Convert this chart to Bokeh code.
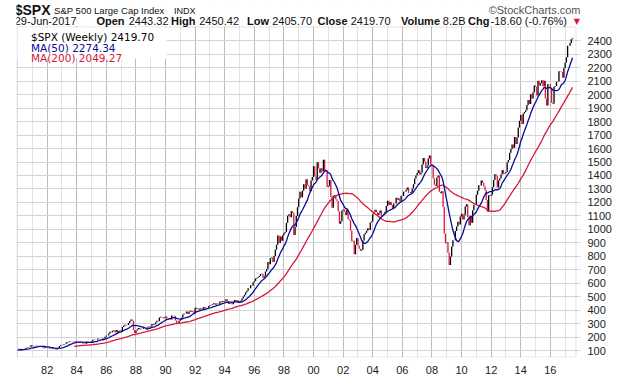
import pandas as pd
from bokeh.plotting import figure
from bokeh.models import (Range1d, FixedTicker, CustomJSTickFormatter,
                          Legend, LegendItem, BoxAnnotation, Label, ColumnDataSource)
from bokeh.embed import file_html
from bokeh.resources import INLINE

# ---------------- data (monthly closes) ----------------
c1979 = [99.9, 96.3, 101.6, 101.8, 99.1, 102.9, 103.8, 109.3, 109.3, 101.8, 106.2, 107.9]
c1980 = [114.2, 113.7, 102.1, 106.3, 111.2, 114.2, 121.7, 122.4, 125.5, 127.5, 140.5, 135.8]
c1981 = [129.6, 131.3, 136.0, 132.8, 132.6, 131.2, 130.9, 122.8, 116.2, 121.9, 126.4, 122.6]
c1982 = [120.4, 113.1, 112.0, 116.4, 111.9, 109.6, 107.1, 119.5, 120.4, 133.7, 138.5, 140.6]
c1983 = [145.3, 148.1, 153.0, 164.4, 162.4, 168.1, 162.6, 164.4, 166.1, 163.6, 166.4, 164.9]
c1984 = [163.4, 157.1, 159.2, 160.1, 150.6, 153.2, 150.7, 166.7, 166.1, 166.1, 163.6, 167.2]
c1985 = [179.6, 181.2, 180.7, 179.8, 189.6, 191.9, 190.9, 188.6, 182.1, 189.8, 202.2, 211.3]
c1986 = [211.8, 226.9, 238.9, 235.5, 247.4, 250.8, 236.1, 252.9, 231.3, 244.0, 249.2, 242.2]
c1987 = [274.1, 284.2, 291.7, 288.4, 290.1, 304.0, 318.7, 329.8, 321.8, 251.8, 230.3, 247.1]
c1988 = [257.1, 267.8, 258.9, 261.3, 262.2, 273.5, 272.0, 261.5, 271.9, 279.0, 273.7, 277.7]
c1989 = [297.5, 288.9, 294.9, 309.6, 320.5, 318.0, 346.1, 351.5, 349.2, 340.4, 346.0, 353.4]
c1990 = [329.1, 331.9, 339.9, 330.8, 361.2, 358.0, 356.2, 322.6, 306.1, 304.0, 322.2, 330.2]
c1991 = [343.9, 367.1, 375.2, 375.3, 389.8, 371.2, 387.8, 395.4, 387.9, 392.5, 375.2, 417.1]
c1992 = [408.8, 412.7, 403.7, 415.0, 415.4, 408.1, 424.2, 414.0, 417.8, 418.7, 431.4, 435.7]
c1993 = [438.8, 443.4, 451.7, 440.2, 450.2, 450.5, 448.1, 463.6, 458.9, 467.8, 461.8, 466.5]
c1994 = [481.6, 467.1, 445.8, 450.9, 456.5, 444.3, 458.3, 475.5, 462.7, 472.4, 453.7, 459.3]
c1995 = [470.4, 487.4, 500.7, 514.7, 533.4, 544.8, 562.1, 561.9, 584.4, 581.5, 605.4, 615.9]
c1996 = [636.0, 640.4, 645.5, 654.2, 669.1, 670.6, 640.0, 652.0, 687.3, 705.3, 757.0, 740.7]
c1997 = [786.2, 790.8, 757.1, 801.3, 848.3, 885.1, 954.3, 899.5, 947.3, 914.6, 955.4, 970.4]
c1998 = [980.3, 1049.3, 1101.8, 1111.8, 1090.8, 1133.8, 1120.7, 957.3, 1017.0, 1098.7, 1163.6, 1229.2]
c1999 = [1279.6, 1238.3, 1286.4, 1335.2, 1301.8, 1372.7, 1328.7, 1320.4, 1282.7, 1362.9, 1388.9, 1469.3]
c2000 = [1394.5, 1366.4, 1498.6, 1452.4, 1420.6, 1454.6, 1430.8, 1517.7, 1436.5, 1429.4, 1315.0, 1320.3]
c2001 = [1366.0, 1239.9, 1160.3, 1249.5, 1255.8, 1224.4, 1211.2, 1133.6, 1040.9, 1059.8, 1139.5, 1148.1]
c2002 = [1130.2, 1106.7, 1147.4, 1076.9, 1067.1, 989.8, 911.6, 916.1, 815.3, 885.8, 936.3, 879.8]
c2003 = [855.7, 841.2, 848.2, 916.9, 963.6, 974.5, 990.3, 1008.0, 996.0, 1050.7, 1058.2, 1111.9]
c2004 = [1131.1, 1144.9, 1126.2, 1107.3, 1120.7, 1140.8, 1101.7, 1104.2, 1114.6, 1130.2, 1173.8, 1211.9]
c2005 = [1181.3, 1203.6, 1180.6, 1156.9, 1191.5, 1191.3, 1234.2, 1220.3, 1228.8, 1207.0, 1249.5, 1248.3]
c2006 = [1280.1, 1280.7, 1294.8, 1310.6, 1270.1, 1270.2, 1276.7, 1303.8, 1335.9, 1377.9, 1400.6, 1418.3]
c2007 = [1438.2, 1406.8, 1420.9, 1482.4, 1530.6, 1503.4, 1455.3, 1474.0, 1526.8, 1549.4, 1481.1, 1468.4]
c2008 = [1378.6, 1330.6, 1322.7, 1385.6, 1400.4, 1280.0, 1267.4, 1282.8, 1166.4, 968.8, 896.2, 903.3]
c2009 = [825.9, 735.1, 797.9, 872.8, 919.1, 919.3, 987.5, 1020.6, 1057.1, 1036.2, 1095.6, 1115.1]
c2010 = [1073.9, 1104.5, 1169.4, 1186.7, 1089.4, 1030.7, 1101.6, 1049.3, 1141.2, 1183.3, 1180.6, 1257.6]
c2011 = [1286.1, 1327.2, 1325.8, 1363.6, 1345.2, 1320.6, 1292.3, 1218.9, 1131.4, 1253.3, 1247.0, 1257.6]
c2012 = [1312.4, 1365.7, 1408.5, 1397.9, 1310.3, 1362.2, 1379.3, 1406.6, 1440.7, 1412.2, 1416.2, 1426.2]
c2013 = [1498.1, 1514.7, 1569.2, 1597.6, 1630.7, 1606.3, 1685.7, 1633.0, 1681.6, 1756.5, 1805.8, 1848.4]
c2014 = [1782.6, 1859.5, 1872.3, 1884.0, 1923.6, 1960.2, 1930.7, 2003.4, 1972.3, 2018.1, 2067.6, 2058.9]
c2015 = [1995.0, 2104.5, 2067.9, 2085.5, 2107.4, 2063.1, 2103.8, 1972.2, 1920.0, 2079.4, 2080.4, 2043.9]
c2016 = [1940.2, 1932.2, 2059.7, 2065.3, 2097.0, 2098.9, 2173.6, 2171.0, 2168.3, 2126.2, 2198.8, 2238.8]
c2017 = [2278.9, 2363.6, 2362.7, 2384.2, 2411.8, 2419.7]

years = list(range(1979, 2018))
yearly = [c1979, c1980, c1981, c1982, c1983, c1984, c1985, c1986, c1987, c1988, c1989,
          c1990, c1991, c1992, c1993, c1994, c1995, c1996, c1997, c1998, c1999, c2000,
          c2001, c2002, c2003, c2004, c2005, c2006, c2007, c2008, c2009, c2010, c2011,
          c2012, c2013, c2014, c2015, c2016, c2017]

x_ticks = list(range(1982, 2017, 2))
x_minor = list(range(1980, 2018))
y_ticks = list(range(100, 2401, 100))

title_sym = "$SPX"
title_name = "S&P 500 Large Cap Index"
title_exch = "INDX"
credit = "\u00a9StockCharts.com"
date_str = "29-Jun-2017"
hdr_names = ["Open", "High", "Low", "Close", "Volume", "Chg"]
hdr_values = ["2443.32", "2450.42", "2405.70", "2419.70", "8.2B", "-18.60 (-0.76%)"]
legend_labels = ["$SPX (Weekly) 2419.70", "MA(50) 2274.34", "MA(200) 2049.27"]

# ---------------- build series ----------------
t, c = [], []
for yr, vals in zip(years, yearly):
    for m, v in enumerate(vals):
        t.append(yr + (m + 1) / 12.0)
        c.append(v)
s = pd.Series(c, index=t)
ma50 = s.rolling(12).mean().dropna()
ma50 = ma50[ma50.index > 1979.95]
ma200 = s[s.index > 1980].rolling(46).mean().dropna()

bars = pd.DataFrame({"x": t[1:], "y0": c[:-1], "y1": c[1:]})
bars = bars[bars.x > 1980]
up = ColumnDataSource(bars[bars.y1 >= bars.y0])
dn = ColumnDataSource(bars[bars.y1 < bars.y0])
m50 = ColumnDataSource(dict(x=list(ma50.index), y=list(ma50.values)))
m200 = ColumnDataSource(dict(x=list(ma200.index), y=list(ma200.values)))

RED = "#d8163c"
NAVY = "#0a0a96"
FONT = "Liberation Sans"

# ---------------- geometry ----------------
W, H = 620, 376
FL, FR, FB = 16, 580, 360          # frame left/right/bottom on the page (frame top = page top)
CT, CR = 29, 576                   # chart box top / right border on the page
PX_YEAR = 14.8
x0 = 1979.93
x1 = x0 + (FR - FL) / PX_YEAR
y0, ytop = 48.4, 2486.0            # values at chart bottom / chart top border
y1 = y0 + (ytop - y0) * FB / (FB - CT)
FW, FH = FR - FL, FB
CH = FB - CT

p = figure(width=W, height=H, output_backend="svg", toolbar_location=None,
           x_range=Range1d(x0, x1), y_range=Range1d(y0, y1),
           y_axis_location="right", min_border_left=FL, min_border_top=0,
           min_border_bottom=H - FB, min_border_right=W - FR)
p.outline_line_color = None
p.background_fill_color = "white"

p.xaxis.ticker = FixedTicker(ticks=x_ticks, minor_ticks=x_minor)
p.xaxis.formatter = CustomJSTickFormatter(code="const y = Math.round(tick) % 100; return (y < 10 ? '0' : '') + y;")
p.xaxis.axis_line_color = None
p.xaxis.major_tick_line_color = None
p.xaxis.minor_tick_line_color = None
p.xaxis.major_label_standoff = 2
p.xaxis.major_label_text_font = FONT
p.xaxis.major_label_text_font_size = "11px"
p.xaxis.major_label_text_color = "#222222"

p.yaxis.ticker = FixedTicker(ticks=y_ticks, minor_ticks=[])
p.yaxis.axis_line_color = None
p.yaxis.major_tick_line_color = None
p.yaxis.minor_tick_line_color = None
p.yaxis.major_label_standoff = 1
p.yaxis.major_label_text_font = FONT
p.yaxis.major_label_text_font_size = "11px"
p.yaxis.major_label_text_color = "#222222"

p.xgrid.ticker = FixedTicker(ticks=x_ticks, minor_ticks=x_minor)
p.xgrid.grid_line_color = "#bcbcbc"
p.xgrid.minor_grid_line_color = "#e2e2e2"
p.ygrid.ticker = FixedTicker(ticks=y_ticks, minor_ticks=[])
p.ygrid.grid_line_color = "#d4d4d4"

p.segment(x0="x", y0="y0", x1="x", y1="y1", source=up, color="black", line_width=1.3)
p.segment(x0="x", y0="y0", x1="x", y1="y1", source=dn, color=RED, line_width=1.3)
p.line("x", "y", source=m200, color=RED, line_width=1.3)
p.line("x", "y", source=m50, color=NAVY, line_width=1.3)

def sbox(left, right, bottom, top, **kw):
    p.add_layout(BoxAnnotation(left=left, right=right, bottom=bottom, top=top,
                               left_units="screen", right_units="screen",
                               top_units="screen", bottom_units="screen", **kw))

# header strip (white) and chart border
sbox(0, FW, CH, FH, fill_color="white", fill_alpha=1, line_color=None)
sbox(0.5, CR - FL - 0.5, 0.5, CH - 0.5, fill_alpha=0, line_color="#a8a8a8", line_width=1)
# legend block
sbox(1, 150, CH - 32, CH - 1, fill_color="white", fill_alpha=1, line_color=None)

leg_colors = ["black", NAVY, RED]
for i, (lab, col) in enumerate(zip(legend_labels, leg_colors)):
    r = p.line("x", "y", source=ColumnDataSource(dict(x=[], y=[])), color=col, line_width=3)
    lg = Legend(items=[LegendItem(label=lab, renderers=[r])],
                location=(2, CH - 17 - i * 10.5), padding=0, margin=0, spacing=0,
                glyph_width=9, glyph_height=10, label_height=10, label_standoff=4,
                label_text_font="DejaVu Sans", label_text_font_size="10.5px",
                label_text_color=col, background_fill_alpha=0, border_line_color=None)
    p.add_layout(lg)

# header texts: page-pixel layout (right edges) converted through the chart's own scales
def xd(X):
    return x0 + (X - FL) / PX_YEAR

def yd(Y):
    return y0 + (FB - Y) * (y1 - y0) / FH

def hlab(txt, X, Y, size="11px", bold=False, color="#111111", font=FONT):
    p.add_layout(Label(x=xd(X), y=yd(Y), text=txt,
                       text_font=font, text_font_size=size,
                       text_font_style="bold" if bold else "normal",
                       text_color=color, text_align="right", text_baseline="middle"))

hlab(title_sym, 50, 10, size="14px", bold=True)
hlab(title_name, 164, 10.5, size="9.5px")
hlab(title_exch, 195, 11, size="9px")
hlab(credit, 580, 10, size="11px", color="#555555")
hlab(date_str, 76, 21, size="11px")
name_r = [124, 195, 268.5, 347, 439.5, 489]
val_r = [168, 238.5, 311.5, 390, 465, 566.5]
for n, v, nr, vr in zip(hdr_names, hdr_values, name_r, val_r):
    hlab(n, nr, 21, size="11px", bold=True)
    hlab(v, vr, 21, size="11px")
hlab("\u25bc", 579.5, 21, size="8px", color=RED, font="DejaVu Sans")

open("out.html", "w").write(file_html(p, INLINE))
